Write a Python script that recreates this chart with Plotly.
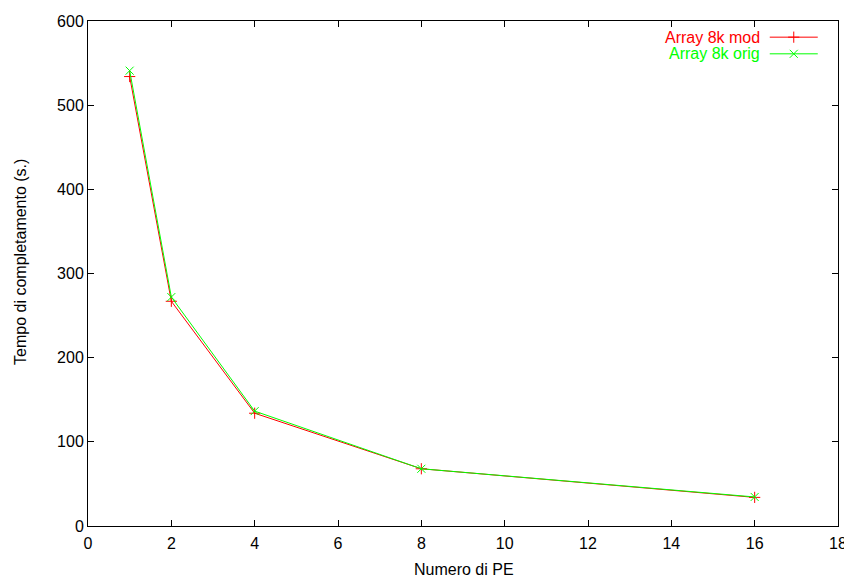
import plotly.graph_objects as go

pe = [1, 2, 4, 8, 16]
mod_times = [534, 267, 134, 68, 34]
orig_times = [541, 272, 136.5, 68, 34.5]
series_names = ["Array 8k mod", "Array 8k orig"]
x_ticks = [0, 2, 4, 6, 8, 10, 12, 14, 16, 18]
y_ticks = [0, 100, 200, 300, 400, 500, 600]

RED = "#ff0000"
GREEN = "#00ff00"
FONT = "Liberation Sans, Arial, Helvetica, sans-serif"
FS = 16

fig = go.Figure()
fig.add_trace(go.Scatter(x=pe, y=mod_times, mode="lines+markers", name=series_names[0],
                         line=dict(color=RED, width=1),
                         marker=dict(symbol="cross-thin", size=8, line=dict(color=RED, width=1)),
                         showlegend=False))
fig.add_trace(go.Scatter(x=pe, y=orig_times, mode="lines+markers", name=series_names[1],
                         line=dict(color=GREEN, width=1),
                         marker=dict(symbol="x-thin", size=8, line=dict(color=GREEN, width=1)),
                         showlegend=False))

# gnuplot-style legend: text right-aligned, sample on the right (overlay axes 0..1)
leg_y = [0.968, 0.935]
for name, col, sym, ly in [(series_names[0], RED, "cross-thin", leg_y[0]),
                           (series_names[1], GREEN, "x-thin", leg_y[1])]:
    fig.add_trace(go.Scatter(x=[0.909, 0.941, 0.973], y=[ly, ly, ly], xaxis="x2", yaxis="y2",
                             mode="lines", line=dict(color=col, width=1),
                             showlegend=False, hoverinfo="skip"))
    fig.add_trace(go.Scatter(x=[0.941], y=[ly], xaxis="x2", yaxis="y2",
                             mode="markers",
                             marker=dict(symbol=sym, size=8, line=dict(color=col, width=1)),
                             showlegend=False, hoverinfo="skip"))
    fig.add_annotation(x=0.896, y=ly, xref="x2", yref="y2", text=name, showarrow=False,
                       xanchor="right", yanchor="middle", xshift=2,
                       font=dict(color=col, size=FS, family=FONT))

# axis titles
fig.add_annotation(x=0.501, y=-0.086, xref="paper", yref="paper", text="Numero di PE",
                   showarrow=False, xanchor="center", yanchor="middle",
                   font=dict(size=FS, family=FONT, color="black"))
fig.add_annotation(x=-0.0893, y=0.523, xref="paper", yref="paper",
                   text="Tempo di completamento (s.)", textangle=-90,
                   showarrow=False, xanchor="center", yanchor="middle",
                   font=dict(size=FS, family=FONT, color="black"))

axis_common = dict(showline=True, linecolor="black", linewidth=1, mirror="ticks",
                   ticks="inside", ticklen=6, tickcolor="black", showgrid=False,
                   zeroline=False, automargin=False,
                   tickfont=dict(size=FS, color="black", family=FONT))

fig.update_layout(
    width=844, height=571,
    margin=dict(l=80, r=14, t=13, b=53, autoexpand=False),
    paper_bgcolor="white", plot_bgcolor="white",
    font=dict(family=FONT, size=FS, color="black"),
    xaxis=dict(range=[0, 18], tickvals=x_ticks, ticklabelstandoff=3, **axis_common),
    yaxis=dict(range=[0, 600], tickvals=y_ticks, **axis_common),
    xaxis2=dict(range=[0, 1], overlaying="x", visible=False, fixedrange=True),
    yaxis2=dict(range=[0, 1], overlaying="y", visible=False, fixedrange=True),
)

fig.write_html("out.html")
